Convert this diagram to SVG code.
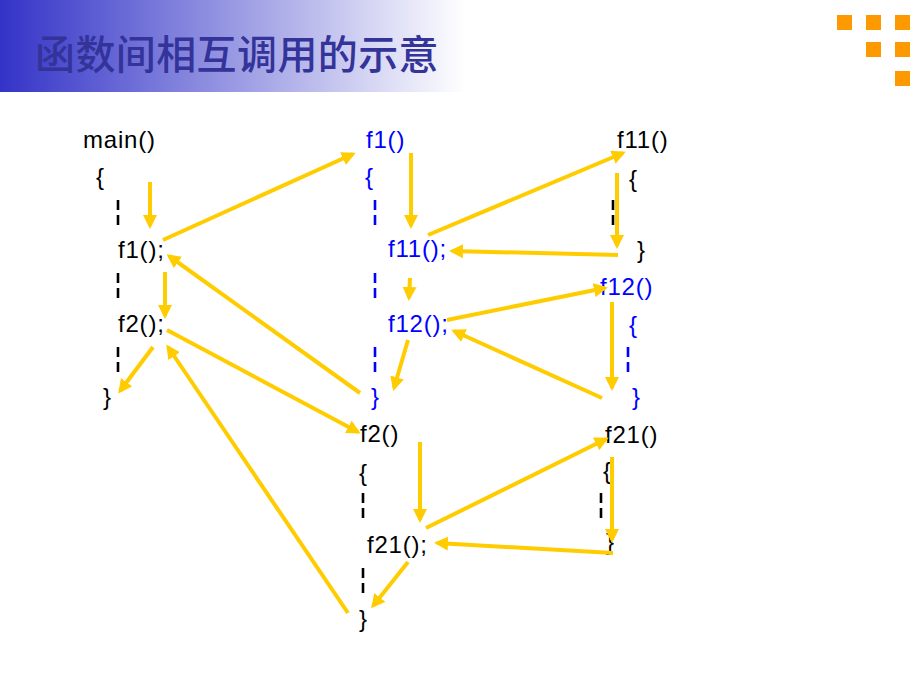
<svg xmlns="http://www.w3.org/2000/svg" width="920" height="690" viewBox="0 0 920 690">
<defs>
<linearGradient id="hdr" x1="0" y1="0" x2="1" y2="0">
<stop offset="0" stop-color="#3333c8"/>
<stop offset="1" stop-color="#ffffff"/>
</linearGradient>
<marker id="ah" markerUnits="userSpaceOnUse" markerWidth="16" markerHeight="16" refX="11" refY="7" orient="auto">
<path d="M0,0 L14,7 L0,14 z" fill="#ffcc00"/>
</marker>
<style>
.t{font-family:"Liberation Sans",Arial,sans-serif;font-size:24px;letter-spacing:0.8px;fill:#000}
.b{fill:#0000ff}
.d{stroke:#000;stroke-width:2.6;stroke-dasharray:10 5}
.db{stroke:#0000ff}
.a{stroke:#ffcc00;stroke-width:4;fill:none;marker-end:url(#ah)}
.sq{fill:#ff9900}
</style>
</defs>
<rect width="920" height="690" fill="#fff"/>
<g id="header">
<rect x="0" y="0" width="466" height="92" fill="url(#hdr)"/>
<text x="35" y="69" font-family="'Noto Sans CJK SC',sans-serif" font-size="40" font-weight="500" fill="#333399" letter-spacing="0.4">函数间相互调用的示意</text>
</g>
<g id="logo">
<rect class="sq" x="837" y="15" width="15" height="15"/>
<rect class="sq" x="866" y="15" width="15" height="15"/>
<rect class="sq" x="895" y="15" width="15" height="15"/>
<rect class="sq" x="866" y="42" width="15" height="15"/>
<rect class="sq" x="895" y="42" width="15" height="15"/>
<rect class="sq" x="895" y="71" width="15" height="15"/>
</g>
<g id="main">
<text class="t" x="83" y="148">main()</text>
<text class="t" x="96" y="185">{</text>
<line class="d" x1="118" y1="200" x2="118" y2="225"/>
<text class="t" x="118" y="258">f1();</text>
<line class="d" x1="118" y1="273" x2="118" y2="298"/>
<text class="t" x="118" y="332">f2();</text>
<line class="d" x1="118" y1="347" x2="118" y2="372"/>
<text class="t" x="103" y="405">}</text>
</g>
<g id="f1">
<text class="t b" x="366" y="148">f1()</text>
<text class="t b" x="365" y="185">{</text>
<line class="d db" x1="375" y1="200" x2="375" y2="225"/>
<text class="t b" x="388" y="257">f11();</text>
<line class="d db" x1="375" y1="273" x2="375" y2="298"/>
<text class="t b" x="388" y="332">f12();</text>
<line class="d db" x1="375" y1="347" x2="375" y2="372"/>
<text class="t b" x="371" y="405">}</text>
</g>
<g id="f2">
<text class="t" x="360" y="442">f2()</text>
<text class="t" x="359" y="481">{</text>
<line class="d" x1="363" y1="493" x2="363" y2="518"/>
<text class="t" x="367" y="553">f21();</text>
<line class="d" x1="363" y1="568" x2="363" y2="593"/>
<text class="t" x="359" y="627">}</text>
</g>
<g id="f11">
<text class="t" x="617" y="148">f11()</text>
<text class="t" x="629" y="187">{</text>
<line class="d" x1="613" y1="200" x2="613" y2="225"/>
<text class="t" x="637" y="258">}</text>
</g>
<g id="f12">
<text class="t b" x="600" y="295">f12()</text>
<text class="t b" x="629" y="333">{</text>
<line class="d db" x1="628" y1="347" x2="628" y2="372"/>
<text class="t b" x="632" y="405">}</text>
</g>
<g id="f21">
<text class="t" x="605" y="443">f21()</text>
<text class="t" x="603" y="479">{</text>
<line class="d" x1="601" y1="493" x2="601" y2="518"/>
<text class="t" x="606" y="550">}</text>
</g>
<g id="connectors">
<line class="a" x1="150" y1="182" x2="150" y2="226"/>
<line class="a" x1="163" y1="240" x2="353" y2="154"/>
<line class="a" x1="165" y1="272" x2="165" y2="316"/>
<line class="a" x1="153" y1="347" x2="120" y2="391"/>
<line class="a" x1="360" y1="393" x2="169" y2="256"/>
<line class="a" x1="167" y1="330" x2="358" y2="432"/>
<line class="a" x1="348" y1="613" x2="168" y2="347"/>
<line class="a" x1="411" y1="153" x2="411" y2="226"/>
<line class="a" x1="428" y1="235" x2="623" y2="153"/>
<line class="a" x1="617" y1="173" x2="617" y2="246"/>
<line class="a" x1="618" y1="255" x2="452" y2="251"/>
<line class="a" x1="410" y1="278" x2="409" y2="298"/>
<line class="a" x1="447" y1="320" x2="605" y2="288"/>
<line class="a" x1="612" y1="302" x2="612" y2="388"/>
<line class="a" x1="602" y1="398" x2="454" y2="331"/>
<line class="a" x1="408" y1="340" x2="394" y2="388"/>
<line class="a" x1="420" y1="442" x2="420" y2="520"/>
<line class="a" x1="426" y1="528" x2="606" y2="439"/>
<line class="a" x1="612" y1="457" x2="612" y2="540"/>
<line class="a" x1="613" y1="553" x2="437" y2="543"/>
<line class="a" x1="408" y1="562" x2="373" y2="606"/>
</g>
</svg>
